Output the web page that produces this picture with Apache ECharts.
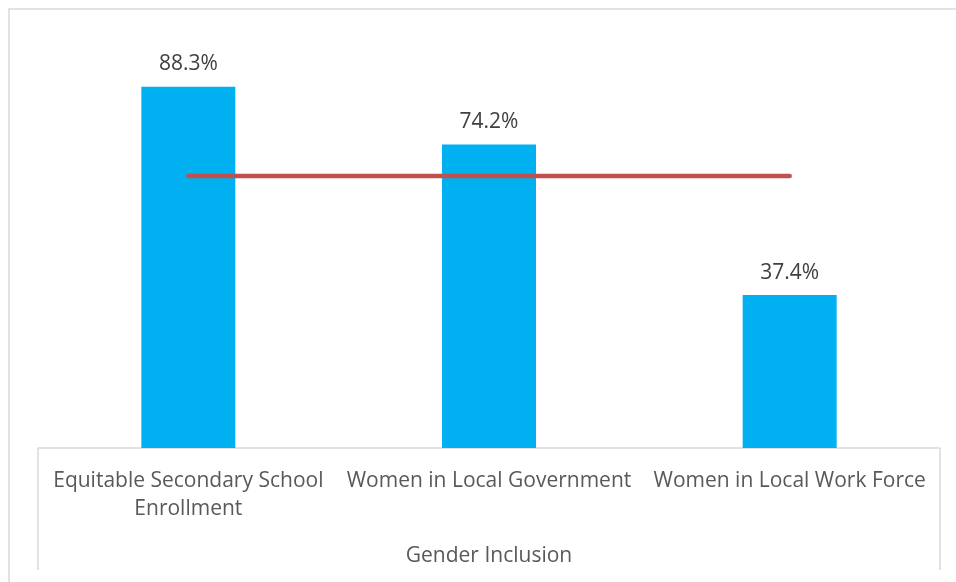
<!DOCTYPE html>
<html>
<head>
<meta charset="utf-8">
<style>html,body{margin:0;padding:0;background:#fff}#c{width:956px;height:582px}</style>
<script src="https://cdn.jsdelivr.net/npm/echarts@6/dist/echarts.min.js"></script>
</head>
<body>
<div id="c"></div>
<script>
const categories = ['Equitable Secondary School\nEnrollment', 'Women in Local Government', 'Women in Local Work Force'];
const values = [88.3, 74.2, 37.4];
const targetValues = [66.5, 66.5, 66.5];
const groupLabel = 'Gender Inclusion';

const chart = echarts.init(document.getElementById('c'), null, {renderer: 'canvas'});
const FONT = 'Open Sans';
chart.setOption({
  animation: false,
  grid: {left: 38, right: 16, top: 39, bottom: 134},
  xAxis: {
    type: 'category',
    data: categories,
    boundaryGap: true,
    axisLine: {show: true, lineStyle: {color: '#d9d9d9', width: 1.5}},
    axisTick: {show: false},
    axisLabel: {color: '#595959', fontFamily: FONT, fontSize: 21, margin: 19, lineHeight: 28, interval: 0},
    name: groupLabel,
    nameLocation: 'middle',
    nameGap: 98,
    nameTextStyle: {color: '#595959', fontFamily: FONT, fontSize: 21}
  },
  yAxis: {
    type: 'value', min: 0, max: 100, show: false,
    splitLine: {show: false}
  },
  series: [
    {
      type: 'bar', data: values, barWidth: 94,
      itemStyle: {color: '#00b0f0'},
      label: {show: true, position: 'top', distance: 12, color: '#404040', fontFamily: FONT, fontSize: 21,
        formatter: p => p.value.toFixed(1) + '%'}
    },
    {
      type: 'line', data: targetValues, symbol: 'none',
      lineStyle: {color: '#c0504d', width: 4.5, cap: 'round'},
      z: 5
    }
  ],
  graphic: [
    {type: 'rect', shape: {x: 9, y: 9, width: 980, height: 600}, style: {fill: 'none', stroke: '#d9d9d9', lineWidth: 1.5}, silent: true},
    {type: 'line', shape: {x1: 38, y1: 448, x2: 38, y2: 570}, style: {stroke: '#d9d9d9', lineWidth: 1.5}, silent: true},
    {type: 'line', shape: {x1: 940, y1: 448, x2: 940, y2: 570}, style: {stroke: '#d9d9d9', lineWidth: 1.5}, silent: true}
  ]
});
</script>
</body>
</html>
